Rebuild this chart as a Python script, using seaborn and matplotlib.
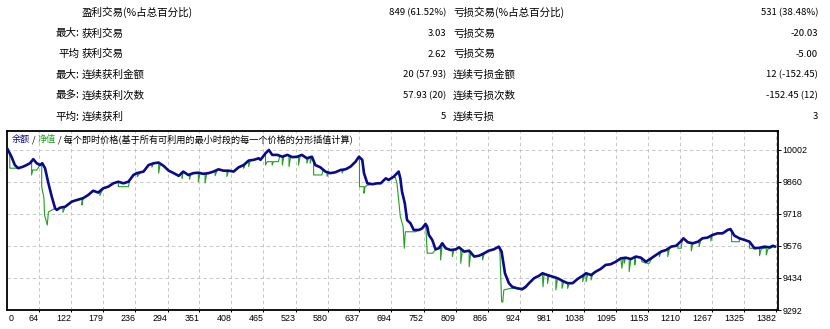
import matplotlib
matplotlib.use("Agg")
import matplotlib.pyplot as plt
import seaborn as sns
import pandas as pd

# ---------------- data ----------------
row_prefix = ["", "最大:", "平均", "最大:", "最多:", "平均:"]
win_labels = ["盈利交易(%占总百分比)", "获利交易", "获利交易", "连续获利金额", "连续获利次数", "连续获利"]
win_values = ["849 (61.52%)", "3.03", "2.62", "20 (57.93)", "57.93 (20)", "5"]
loss_labels = ["亏损交易(%占总百分比)", "亏损交易", "亏损交易", "连续亏损金额", "连续亏损次数", "连续亏损"]
loss_values = ["531 (38.48%)", "-20.03", "-5.00", "12 (-152.45)", "-152.45 (12)", "3"]

header_parts = ["余额", " / ", "净值", " / 每个即时价格(基于所有可利用的最小时段的每一个价格的分形插值计算)"]

x_tick_labels = ["0", "64", "122", "179", "236", "294", "351", "408", "465", "523", "580", "637",
                 "694", "752", "809", "866", "924", "981", "1038", "1095", "1153", "1210", "1267",
                 "1325", "1382"]
y_ticks = [10002, 9860, 9718, 9576, 9434, 9292]

balance_trade = [
    7, 15, 21, 27, 36, 42, 48, 54, 60, 66,
    70, 75, 81, 87, 93, 96, 102, 111, 123, 132,
    143, 152, 161, 170, 179, 188, 197, 206, 215, 224,
    233, 239, 251, 260, 269, 278, 287, 296, 305, 314,
    322, 331, 340, 349, 358, 367, 376, 385, 394, 403,
    412, 421, 430, 439, 448, 457, 460, 469, 475, 481,
    490, 499, 508, 517, 526, 534, 543, 552, 558, 567,
    576, 585, 594, 603, 612, 621, 630, 636, 642, 645,
    651, 660, 669, 675, 684, 689, 698, 707, 710, 713,
    718, 722, 728, 734, 743, 749, 755, 758, 761, 767,
    773, 779, 785, 791, 800, 809, 815, 824, 833, 842,
    851, 860, 868, 877, 886, 891, 897, 904, 910, 919,
    928, 934, 940, 949, 958, 964, 973, 982, 991, 1000,
    1009, 1018, 1027, 1036, 1042, 1051, 1059, 1068, 1077, 1086,
    1095, 1104, 1113, 1122, 1131, 1140, 1149, 1158, 1167, 1176,
    1185, 1194, 1203, 1212, 1216, 1224, 1233, 1242, 1250, 1259,
    1268, 1277, 1286, 1295, 1300, 1307, 1316, 1325, 1334, 1343,
    1352, 1361, 1370, 1376, 1380]
balance_value = [
    10010, 9972, 9935, 9921, 9928, 9935, 9943, 9961, 9943, 9935,
    9943, 9921, 9854, 9795, 9743, 9736, 9746, 9750, 9773, 9780,
    9788, 9802, 9821, 9813, 9832, 9839, 9854, 9861, 9854, 9861,
    9891, 9899, 9906, 9935, 9943, 9946, 9931, 9910, 9899, 9887,
    9906, 9891, 9899, 9901, 9896, 9899, 9906, 9916, 9910, 9910,
    9906, 9925, 9935, 9955, 9958, 9965, 9958, 9987, 10002, 9980,
    9980, 9972, 9980, 9970, 9972, 9980, 9965, 9972, 9935, 9925,
    9906, 9899, 9903, 9913, 9916, 9928, 9950, 9972, 9958, 9899,
    9854, 9850, 9854, 9854, 9876, 9869, 9883, 9906, 9876, 9817,
    9765, 9691, 9677, 9647, 9647, 9654, 9674, 9662, 9625, 9603,
    9561, 9566, 9588, 9566, 9558, 9561, 9570, 9551, 9555, 9529,
    9533, 9544, 9555, 9561, 9573, 9551, 9455, 9411, 9395, 9388,
    9385, 9395, 9411, 9433, 9444, 9455, 9447, 9440, 9433, 9421,
    9411, 9411, 9430, 9444, 9455, 9447, 9462, 9474, 9492, 9495,
    9506, 9521, 9524, 9518, 9529, 9524, 9506, 9521, 9536, 9551,
    9558, 9573, 9577, 9598, 9610, 9592, 9588, 9595, 9610, 9613,
    9625, 9632, 9632, 9647, 9651, 9622, 9610, 9603, 9595, 9566,
    9568, 9573, 9570, 9577, 9573]

equity_trade = [
    7, 12, 12, 27, 36, 42, 48, 51, 51, 53,
    60, 66, 69, 69, 73, 74, 79, 81, 93, 96,
    102, 107, 107, 111, 123, 132, 141, 141, 143, 152,
    161, 170, 173, 173, 179, 188, 197, 206, 206, 224,
    226, 233, 239, 240, 240, 246, 251, 260, 266, 266,
    269, 278, 278, 281, 287, 296, 305, 314, 320, 320,
    322, 331, 333, 333, 336, 340, 349, 349, 352, 358,
    361, 361, 364, 367, 376, 379, 379, 383, 385, 394,
    400, 400, 403, 412, 421, 430, 430, 433, 439, 439,
    442, 448, 457, 460, 469, 469, 472, 481, 481, 483,
    492, 495, 499, 499, 502, 508, 511, 511, 514, 517,
    526, 528, 528, 531, 534, 543, 543, 546, 549, 549,
    552, 555, 555, 570, 572, 576, 579, 579, 582, 585,
    594, 603, 606, 606, 609, 612, 621, 630, 636, 637,
    637, 645, 645, 647, 651, 660, 669, 675, 684, 689,
    698, 701, 704, 710, 715, 717, 719, 737, 743, 749,
    755, 756, 758, 768, 773, 779, 782, 782, 785, 791,
    800, 803, 803, 806, 809, 815, 818, 818, 821, 824,
    833, 833, 836, 842, 851, 857, 857, 860, 868, 877,
    886, 888, 891, 893, 895, 907, 919, 928, 934, 940,
    949, 958, 964, 965, 967, 973, 973, 976, 982, 988,
    988, 991, 999, 999, 1002, 1009, 1009, 1012, 1018, 1027,
    1036, 1036, 1039, 1042, 1042, 1045, 1051, 1051, 1054, 1059,
    1068, 1077, 1086, 1095, 1104, 1106, 1108, 1110, 1110, 1113,
    1119, 1119, 1122, 1129, 1129, 1131, 1140, 1142, 1149, 1155,
    1158, 1167, 1173, 1173, 1176, 1185, 1188, 1188, 1191, 1194,
    1203, 1206, 1206, 1212, 1214, 1216, 1224, 1230, 1230, 1233,
    1242, 1244, 1244, 1247, 1250, 1259, 1265, 1265, 1268, 1277,
    1286, 1295, 1300, 1302, 1302, 1316, 1316, 1325, 1334, 1334,
    1346, 1352, 1352, 1355, 1361, 1364, 1364, 1367, 1370, 1376,
    1380]
equity_value = [
    10010, 9990, 9921, 9921, 9928, 9935, 9943, 9952, 9891, 9913,
    9913, 9935, 9938, 9838, 9789, 9714, 9669, 9727, 9743, 9736,
    9746, 9748, 9725, 9750, 9773, 9780, 9787, 9758, 9788, 9802,
    9821, 9813, 9818, 9800, 9832, 9839, 9854, 9861, 9839, 9839,
    9865, 9891, 9899, 9899, 9884, 9903, 9906, 9935, 9941, 9925,
    9943, 9946, 9899, 9942, 9931, 9910, 9899, 9887, 9900, 9876,
    9906, 9891, 9893, 9872, 9895, 9899, 9901, 9861, 9899, 9896,
    9897, 9855, 9898, 9899, 9906, 9910, 9888, 9914, 9916, 9910,
    9910, 9884, 9910, 9906, 9925, 9935, 9921, 9942, 9955, 9928,
    9956, 9958, 9965, 9958, 9987, 9935, 9950, 9950, 9935, 9950,
    9950, 9978, 9972, 9935, 9975, 9980, 9976, 9928, 9972, 9970,
    9972, 9974, 9935, 9976, 9980, 9965, 9943, 9967, 9969, 9943,
    9972, 9955, 9891, 9891, 9915, 9906, 9903, 9885, 9901, 9899,
    9903, 9913, 9914, 9899, 9915, 9916, 9928, 9950, 9972, 9970,
    9839, 9839, 9810, 9839, 9845, 9850, 9854, 9854, 9876, 9869,
    9883, 9880, 9854, 9706, 9662, 9566, 9639, 9639, 9647, 9654,
    9674, 9640, 9544, 9544, 9561, 9566, 9577, 9514, 9588, 9566,
    9558, 9559, 9529, 9560, 9561, 9570, 9565, 9499, 9558, 9551,
    9555, 9484, 9550, 9529, 9533, 9540, 9514, 9544, 9555, 9561,
    9573, 9551, 9330, 9326, 9381, 9388, 9388, 9380, 9390, 9411,
    9433, 9444, 9455, 9395, 9452, 9447, 9410, 9446, 9440, 9437,
    9381, 9433, 9421, 9388, 9419, 9411, 9388, 9411, 9411, 9430,
    9444, 9418, 9448, 9455, 9418, 9452, 9447, 9425, 9452, 9462,
    9474, 9492, 9495, 9506, 9521, 9477, 9522, 9522, 9499, 9524,
    9520, 9462, 9518, 9527, 9492, 9529, 9524, 9506, 9500, 9499,
    9515, 9536, 9546, 9529, 9551, 9558, 9563, 9529, 9566, 9573,
    9577, 9584, 9566, 9566, 9604, 9610, 9592, 9589, 9554, 9588,
    9595, 9597, 9573, 9602, 9610, 9613, 9622, 9598, 9625, 9632,
    9632, 9647, 9651, 9640, 9595, 9595, 9610, 9603, 9595, 9566,
    9566, 9566, 9533, 9562, 9566, 9566, 9536, 9562, 9565, 9572,
    9573]

# ---------------- style ----------------
sns.set_theme(style="white")
plt.rcParams['font.family'] = ['Noto Sans CJK SC', 'DejaVu Sans']
plt.rcParams['axes.unicode_minus'] = False

BALANCE_C = "#0a0a8a"
EQUITY_C = "#22a022"
W, H = 830, 329

fig = plt.figure(figsize=(W / 100, H / 100), dpi=100)
fig.patch.set_facecolor("white")

# ---------------- statistics table ----------------
def fx(px):
    return px / W

def fy(py):
    return 1 - py / H

cjk_size = 7.6
num_size = 6.9
for i in range(len(win_labels)):
    yy = fy(12.5 + i * 20.8)
    fig.text(fx(79), yy, row_prefix[i], ha="right", va="center", fontsize=cjk_size, color="black")
    fig.text(fx(82), yy, win_labels[i], ha="left", va="center", fontsize=cjk_size, color="black")
    fig.text(fx(446), yy, win_values[i], ha="right", va="center", fontsize=num_size, color="black")
    fig.text(fx(453), yy, loss_labels[i], ha="left", va="center", fontsize=cjk_size, color="black")
    fig.text(fx(818), yy, loss_values[i], ha="right", va="center", fontsize=num_size, color="black")

# ---------------- chart ----------------
ax = fig.add_axes([fx(7), fy(310), (778 - 7) / W, (310 - 131) / H])
ax.set_facecolor("white")

eq_df = pd.DataFrame({"trade": equity_trade, "value": equity_value})
bal_df = pd.DataFrame({"trade": balance_trade, "value": balance_value})
sns.lineplot(data=eq_df, x="trade", y="value", ax=ax, color=EQUITY_C, linewidth=0.8,
             sort=False, estimator=None, zorder=3)
sns.lineplot(data=bal_df, x="trade", y="value", ax=ax, color=BALANCE_C, linewidth=1.9,
             sort=False, estimator=None, zorder=4)

ax.set_xlim(7, 1385)
ax.set_ylim(9292, 10086)
ax.set_xlabel("")
ax.set_ylabel("")

x_pos = [int(v) for v in x_tick_labels]
ax.set_xticks(x_pos[1:])
ax.set_xticklabels(x_tick_labels[1:], ha="right")
ax.yaxis.tick_right()
ax.set_yticks(y_ticks)
ax.set_yticklabels([str(v) for v in y_ticks])

ax.tick_params(axis="x", bottom=True, top=False, direction="out", length=1.6, width=0.7,
               pad=1.4, labelsize=6.4, colors="black")
ax.tick_params(axis="y", right=True, left=False, direction="out", length=1.8, width=0.7,
               pad=1.6, labelsize=6.4, colors="black")
for lbl in ax.get_xticklabels() + ax.get_yticklabels():
    lbl.set_fontfamily("Liberation Sans")

ax.annotate(x_tick_labels[0], xy=(0, 0), xycoords="axes fraction", xytext=(1.2, -3.0),
            textcoords="offset points", ha="left", va="top", fontsize=6.4,
            family="Liberation Sans", color="black")

ax.grid(True, color="#c6c6c6", linestyle=(0, (3.5, 3)), linewidth=0.7, zorder=0)
ax.set_axisbelow(True)
for s in ax.spines.values():
    s.set_color("black")
    s.set_linewidth(1.3)
    s.set_visible(True)

# header legend (coloured parts)
header_colors = [BALANCE_C, "black", EQUITY_C, "black"]
prev = ax.text(0.006, 0.952, header_parts[0], transform=ax.transAxes, ha="left", va="center",
               fontsize=6.6, color=header_colors[0], zorder=6)
for part, col in zip(header_parts[1:], header_colors[1:]):
    prev = ax.annotate(part, xy=(1, 0.5), xycoords=prev, ha="left", va="center",
                       fontsize=6.6, color=col, zorder=6)

fig.savefig("out.png", dpi=100, facecolor="white")
